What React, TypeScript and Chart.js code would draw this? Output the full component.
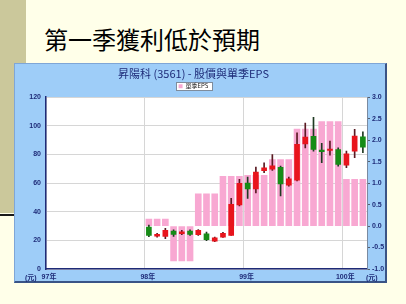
import { useEffect, useRef } from 'react';
import { Chart, registerables } from 'chart.js';

Chart.register(...registerables);

const heading = '第一季獲利低於預期';
const chartTitle = '昇陽科 (3561) - 股價與單季EPS';
const epsLabel = '單季EPS';
const unitLabel = '(元)';

const yearLabels = ['97年', '98年', '99年', '100年'];
const yearStarts = [97, 98, 99, 100];

const candleMonths = [
  '98/01', '98/02', '98/03', '98/04', '98/05', '98/06', '98/07', '98/08', '98/09', '98/10', '98/11', '98/12',
  '99/01', '99/02', '99/03', '99/04', '99/05', '99/06', '99/07', '99/08', '99/09', '99/10', '99/11', '99/12',
  '100/01', '100/02', '100/03',
];
const opens = [29.3, 23.0, 22.8, 26.5, 24.6, 26.5, 24.0, 24.6, 19.5, 22.3, 23.5, 44.7, 60.0, 56.0, 68.6, 69.8, 71.0, 58.6, 62.1, 87.4, 92.6, 83.0, 82.8, 83.5, 72.6, 82.3, 92.3];
const highs = [30.7, 24.9, 28.4, 27.4, 27.0, 27.4, 27.6, 25.8, 22.3, 25.6, 49.3, 62.6, 64.2, 71.2, 74.2, 80.0, 71.9, 64.2, 95.1, 102.0, 106.0, 87.7, 89.3, 84.6, 82.3, 97.5, 95.8];
const lows = [22.5, 22.3, 21.1, 22.8, 23.9, 23.5, 23.5, 19.8, 19.1, 22.1, 23.4, 44.0, 49.3, 53.2, 67.2, 68.9, 51.0, 57.9, 61.5, 84.6, 82.3, 74.2, 79.5, 71.9, 70.7, 77.7, 81.2];
const closes = [23.5, 24.2, 27.0, 24.2, 26.0, 24.2, 27.0, 20.5, 21.8, 24.9, 45.1, 59.8, 56.0, 67.7, 70.7, 72.1, 59.5, 63.0, 87.0, 92.1, 83.5, 81.9, 83.7, 73.0, 80.5, 92.8, 85.1];

const epsQuarters = ['98Q1', '98Q2', '98Q3', '98Q4', '99Q1', '99Q2', '99Q3', '99Q4', '100Q1'];
const epsValues = [0.16, -0.81, 0.75, 1.16, 1.18, 1.55, 2.26, 2.43, 1.09];

const RED = '#E8141C';
const GREEN = '#168C16';
const PINK = '#F8A8D2';
const NAVY = '#1E2B78';

const monthX = (roc: number, m: number) => (roc - 97) * 12 + (m - 1) + 0.5;

const candleX = candleMonths.map((s) => {
  const [y, m] = s.split('/').map(Number);
  return monthX(y, m);
});

const epsPoints: { x: number; y: number }[] = [];
epsQuarters.forEach((q, i) => {
  const [y, qq] = q.split('Q').map(Number);
  for (let j = 1; j <= 3; j++) {
    epsPoints.push({ x: monthX(y, (qq - 1) * 3 + j), y: epsValues[i] });
  }
});

const bodyColors = opens.map((o, i) => (closes[i] >= o ? RED : GREEN));
const wickColors = opens.map((o, i) => (closes[i] >= o ? '#5A1A22' : '#1F3A22'));

const tickFont = { family: '"Liberation Sans", "Noto Sans CJK TC", sans-serif', size: 7, weight: 'bold' as const };

const bgPlugin = {
  id: 'bgPlugin',
  beforeDraw(chart: any) {
    const { ctx, chartArea: a } = chart;
    ctx.save();
    ctx.fillStyle = '#ffffff';
    ctx.fillRect(a.left, a.top, a.right - a.left, a.bottom - a.top);
    const lg = chart.legend;
    if (lg && lg.legendHitBoxes && lg.legendHitBoxes.length) {
      const hb = lg.legendHitBoxes[0];
      const x = Math.round(hb.left - 3) + 0.5;
      const y = Math.round(hb.top - 1) + 0.5;
      const w = Math.round(hb.width + 6);
      const h = Math.round(hb.height + 2);
      ctx.fillStyle = '#ffffff';
      ctx.fillRect(x, y, w, h);
      ctx.strokeStyle = '#7F8C9C';
      ctx.lineWidth = 1;
      ctx.strokeRect(x, y, w, h);
    }
    ctx.restore();
  },
};

function PriceChart() {
  const ref = useRef<HTMLCanvasElement | null>(null);
  useEffect(() => {
    if (!ref.current) return;
    const chart = new Chart(ref.current, {
      type: 'bar',
      data: {
        datasets: [
          {
            label: '股價',
            data: candleX.map((x, i) => ({ x, y: [opens[i], closes[i]] })) as any,
            backgroundColor: bodyColors,
            barThickness: 5,
            grouped: false,
            yAxisID: 'y',
          } as any,
          {
            label: '影線',
            data: candleX.map((x, i) => ({ x, y: [lows[i], highs[i]] })) as any,
            backgroundColor: wickColors,
            barThickness: 1,
            grouped: false,
            yAxisID: 'y',
          } as any,
          {
            label: epsLabel,
            data: epsPoints as any,
            backgroundColor: PINK,
            barThickness: 6,
            grouped: false,
            yAxisID: 'y1',
          } as any,
        ],
      },
      options: {
        animation: false,
        responsive: false,
        maintainAspectRatio: false,
        layout: { padding: { left: -16, right: 0, top: 0, bottom: 0 } },
        plugins: {
          title: {
            display: true,
            text: chartTitle,
            color: NAVY,
            font: { family: '"Noto Sans CJK TC", sans-serif', size: 11, weight: 'normal' },
            padding: { top: 3, bottom: 0 },
          },
          legend: {
            display: true,
            maxHeight: 17,
            labels: {
              filter: (item: any) => item.datasetIndex === 2,
              boxWidth: 4,
              boxHeight: 4,
              padding: 3,
              color: '#222',
              font: { family: '"Noto Sans CJK TC", sans-serif', size: 6 },
            },
          } as any,
          tooltip: { enabled: false },
        },
        scales: {
          x: {
            type: 'linear',
            min: 0,
            max: 39,
            offset: false,
            afterFit: (s: any) => {
              s.height = 15;
            },
            afterBuildTicks: (s: any) => {
              s.ticks = yearStarts.map((y) => ({ value: (y - 97) * 12 }));
            },
            ticks: {
              autoSkip: false,
              maxRotation: 0,
              padding: 4,
              labelOffset: 3,
              color: NAVY,
              font: tickFont,
              callback: (v: any) => yearLabels[Math.round(Number(v) / 12)] ?? '',
            },
            grid: { color: '#D6D6D6', drawTicks: false, offset: false },
            border: { color: NAVY, width: 1.5 },
          },
          y: {
            position: 'left',
            min: 0,
            max: 120,
            afterFit: (s: any) => {
              s.width = 47;
            },
            ticks: { stepSize: 20, padding: 5, color: NAVY, font: tickFont },
            grid: { color: '#D6D6D6', drawTicks: false },
            border: { color: NAVY, width: 1.5 },
          },
          y1: {
            position: 'right',
            min: -1,
            max: 3,
            afterFit: (s: any) => {
              s.width = 21;
            },
            ticks: {
              stepSize: 0.5,
              padding: 2,
              color: NAVY,
              font: tickFont,
              callback: (v: any) => Number(v).toFixed(1),
            },
            grid: { drawOnChartArea: false, drawTicks: true, tickLength: 3, color: '#556070' },
            border: { color: '#7A8AA0', width: 1 },
          },
        },
      } as any,
      plugins: [bgPlugin],
    });
    return () => chart.destroy();
  }, []);
  return <canvas ref={ref} width={373} height={220} style={{ position: 'absolute', left: 0, top: 0, width: 373, height: 220 }} />;
}

export default function App() {
  return (
    <div style={{ position: 'fixed', left: 0, top: 0, width: 406, height: 304, background: '#FFFFE9', overflow: 'hidden' }}>
      <div style={{ position: 'absolute', left: 0, top: 0, width: 26, height: 213, background: '#CBC89B' }} />
      <div style={{ position: 'absolute', left: 0, top: 214, width: 30, height: 2, background: '#1A1A1A' }} />
      <div
        style={{
          position: 'absolute',
          left: 44,
          top: 27,
          fontSize: 24,
          lineHeight: 1,
          whiteSpace: 'nowrap',
          color: '#000',
          fontFamily: '"Noto Sans CJK TC", sans-serif',
          fontWeight: 400,
        }}
      >
        {heading}
      </div>
      <div
        style={{
          position: 'absolute',
          left: 14,
          top: 63,
          width: 373,
          height: 220,
          boxSizing: 'border-box',
          background: '#9ECDF8',
          borderTop: '1px solid #7FA6D6',
          borderLeft: '1px solid #7FA6D6',
          borderRight: '2px solid #3A5486',
          borderBottom: '2px solid #3A5486',
        }}
      >
        <PriceChart />
        <span style={{ position: 'absolute', left: 10, top: 208, fontSize: 7, fontWeight: 'bold', color: NAVY, fontFamily: '"Liberation Sans", "Noto Sans CJK TC", sans-serif', whiteSpace: 'nowrap' }}>
          {unitLabel}
        </span>
        <span style={{ position: 'absolute', left: 351, top: 208, fontSize: 7, fontWeight: 'bold', color: NAVY, fontFamily: '"Liberation Sans", "Noto Sans CJK TC", sans-serif', whiteSpace: 'nowrap' }}>
          {unitLabel}
        </span>
      </div>
    </div>
  );
}
